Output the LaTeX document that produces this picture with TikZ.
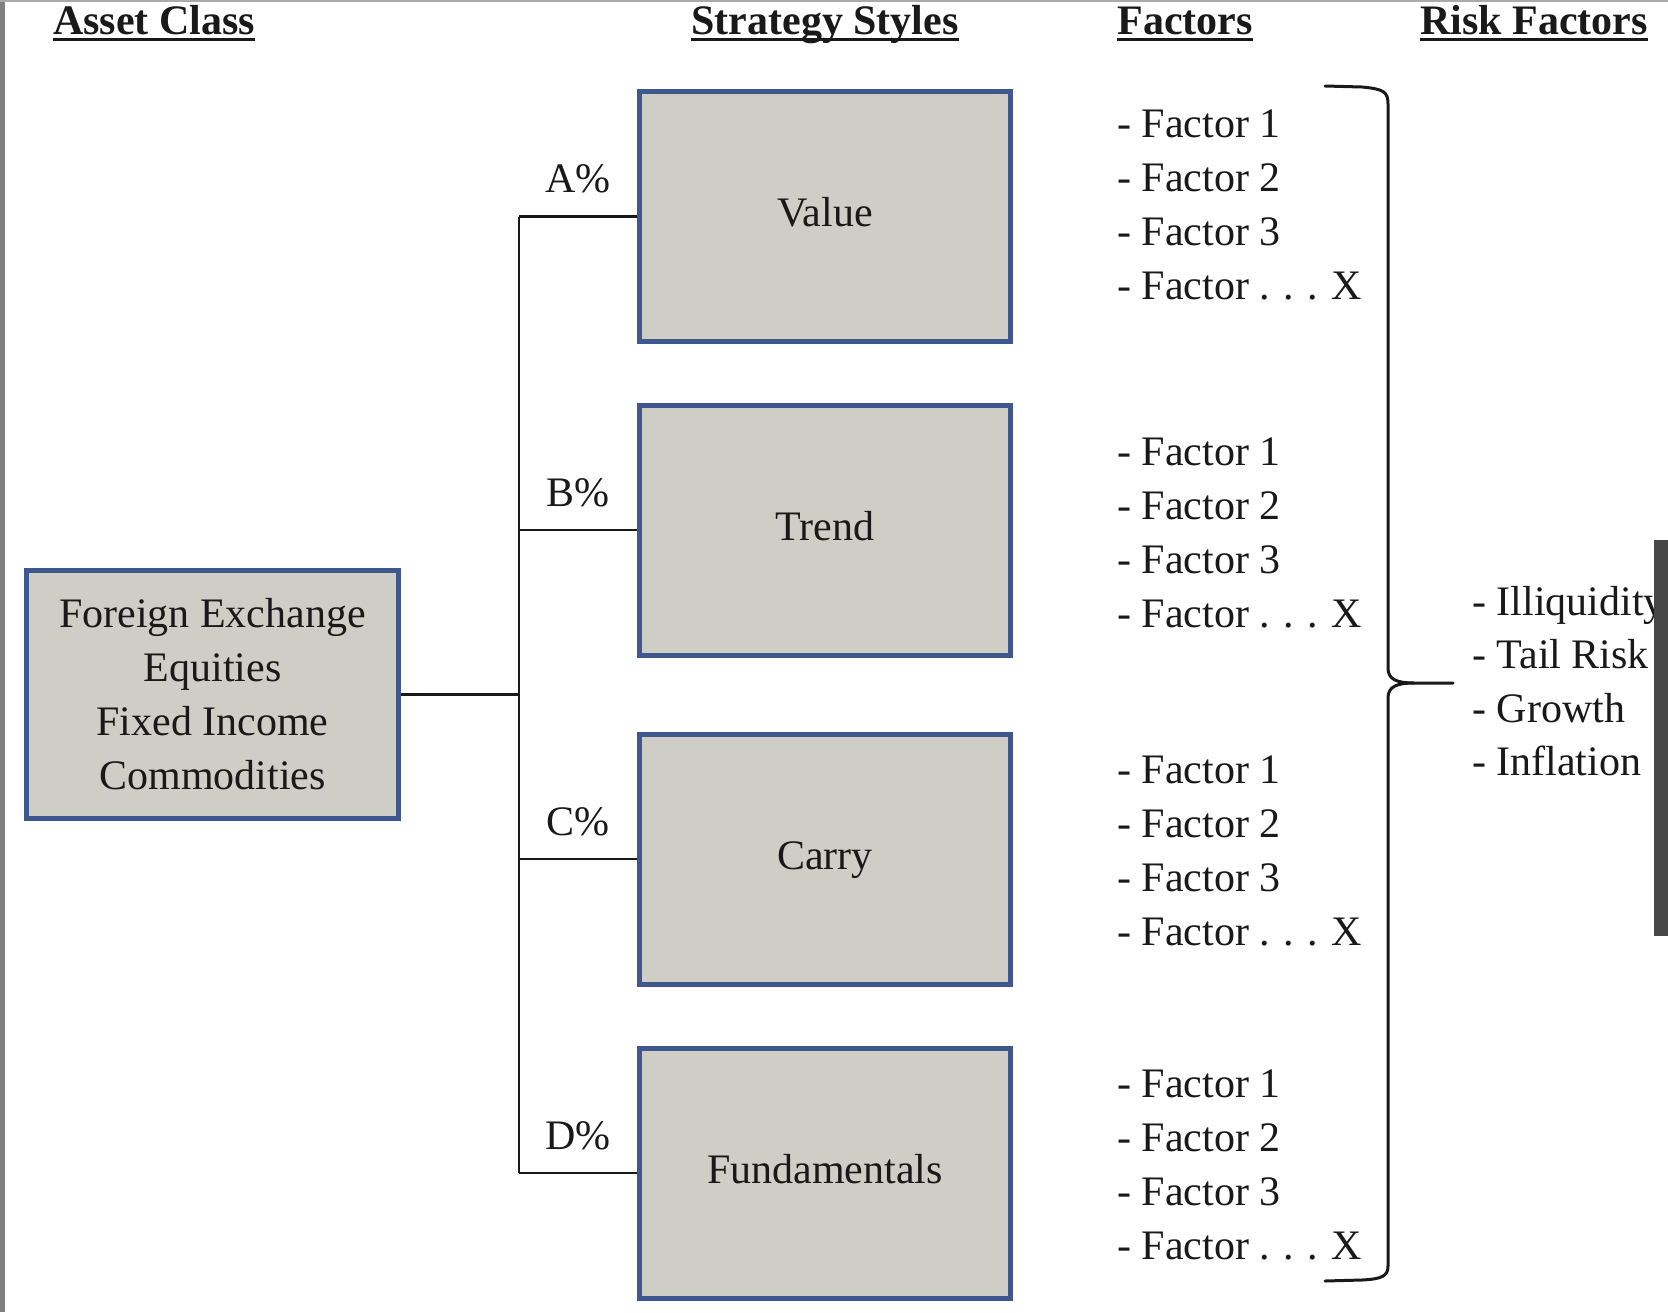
\documentclass[tikz,border=0pt]{standalone}
\usepackage{fontspec}
\setmainfont{Liberation Serif}
\definecolor{boxfill}{RGB}{206,205,198}
\definecolor{boxline}{RGB}{62,87,140}
\definecolor{ink}{RGB}{25,25,25}
\definecolor{leftbar}{RGB}{128,128,128}
\definecolor{topline}{RGB}{170,170,170}
\definecolor{darkbar}{RGB}{71,71,71}
\newcommand{\dotgap}{\hspace{13.5pt}}
\begin{document}
\begin{tikzpicture}[x=1pt,y=-1pt,
  every node/.style={font=\fontsize{42}{54}\selectfont, text=ink},
  stylebox/.style={draw=boxline, line width=5pt, fill=boxfill, minimum width=371pt,
    minimum height=250pt, inner sep=0pt, text height=30pt, text depth=10pt},
  assetbox/.style={draw=boxline, line width=5pt, fill=boxfill, minimum width=372pt,
    minimum height=248pt, inner sep=0pt, align=center},
  hdr/.style={font=\fontsize{42}{54}\selectfont\bfseries, anchor=base, inner sep=0pt},
  hline/.style={draw=ink, line width=3pt},
  conn/.style={draw=ink, line width=2.5pt},
  pct/.style={anchor=base, yshift=24pt, inner sep=0pt},
  listitem/.style={anchor=base west, inner sep=0pt},
  bracepath/.style={draw=ink, line width=3pt, line cap=round, line join=round}
]
\useasboundingbox (0,0) rectangle (1668,1312);
\fill[leftbar] (0,0) rectangle (5,1312);
\fill[topline] (0,0) rectangle (1668,1.5);

% headers
\node[hdr] (h1) at (154,34) {Asset Class};
\node[hdr] (h2) at (825,34) {Strategy Styles};
\node[hdr] (h3) at (1185,34) {Factors};
\node[hdr] (h4) at (1534,34) {Risk Factors};
\foreach \h in {h1,h2,h3,h4}{
  \draw[hline] ([yshift=-5.5pt]\h.base west) -- ([yshift=-5.5pt]\h.base east);
}

% boxes
\node[assetbox] (asset) at (212.5,694.5) {Foreign Exchange\\Equities\\Fixed Income\\Commodities};
\node[stylebox] (value) at (825,216.5) {Value};
\node[stylebox] (trend) at (825,530) {Trend};
\node[stylebox] (carry) at (825,859) {Carry};
\node[stylebox] (fund) at (825,1173) {Fundamentals};

% connectors
\coordinate (tx) at (519,695);
\draw[conn] (asset.east) -- (asset.east -| tx);
\draw[conn] (value.west -| tx) -- (fund.west -| tx);
\draw[conn] (value.west -| tx) -- node[pct]{A\%} (value.west);
\draw[conn] (trend.west -| tx) -- node[pct]{B\%} (trend.west);
\draw[conn] (carry.west -| tx) -- node[pct]{C\%} (carry.west);
\draw[conn] (fund.west -| tx) -- node[pct]{D\%} (fund.west);

% factor lists
\foreach \g/\y in {1/137,2/465,3/783,4/1097}{
  \foreach \i/\t in {0/1,1/2,2/3,3/{.\dotgap.\dotgap.\dotgap X}}{
    \node[listitem] (f\g-\i) at (1117,{\y+54*\i}) {- Factor \t};
  }
}

% brace
\draw[bracepath] (1325,86) -- (1362,87) .. controls (1384,89) and (1388,92) .. (1388,104)
  -- (1388,668) .. controls (1388,679) and (1396,683) .. (1414,683) -- (1453,683);
\draw[bracepath] (1414,683) .. controls (1396,683) and (1388,687) .. (1388,698)
  -- (1388,1266) .. controls (1388,1276) and (1382,1279) .. (1362,1280) -- (1325,1281);

% risk factors
\foreach \i/\t in {0/Illiquidity,1/Tail Risk,2/Growth,3/Inflation}{
  \node[listitem] (r\i) at (1472,{615+53.5*\i}) {- \t};
}
\fill[darkbar] (1654,540) rectangle (1668,936);
\end{tikzpicture}
\end{document}
